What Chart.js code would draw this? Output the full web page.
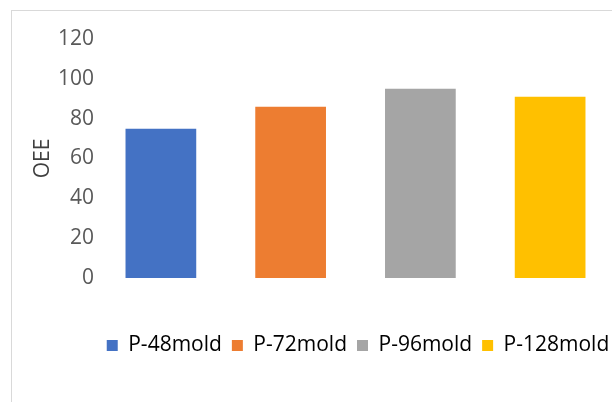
<!DOCTYPE html>
<html>
<head>
<meta charset="utf-8">
<script src="https://cdn.jsdelivr.net/npm/chart.js@4"></script>
<style>
  html, body { margin: 0; padding: 0; background: #fff; }
  body { width: 612px; height: 402px; overflow: hidden; position: relative; }
  #wrap { position: absolute; left: 0; top: 0; width: 716px; height: 402px; }
</style>
</head>
<body>
<div id="wrap"><canvas id="chartOee" width="716" height="402"></canvas></div>
<script>
// datos de la grafica
var categorias = ['P-48mold', 'P-72mold', 'P-96mold', 'P-128mold'];
var valoresOee = [75, 86, 95, 91];
var colores = ['#4472C4', '#ED7D31', '#A5A5A5', '#FFC000'];
var ticksY = [0, 20, 40, 60, 80, 100, 120];

var fuente = "'Open Sans', 'DejaVu Sans', sans-serif";

// marco del area de la grafica (como Excel)
var marco = {
    id: 'marco',
    beforeDraw: function (chart) {
        var ctx = chart.ctx;
        ctx.save();
        ctx.fillStyle = '#ffffff';
        ctx.fillRect(0, 0, chart.width, chart.height);
        ctx.strokeStyle = '#d9d9d9';
        ctx.lineWidth = 1;
        ctx.strokeRect(11.5, 10.5, 900, 600);
        ctx.restore();
    }
};

var chartOee = new Chart(document.getElementById('chartOee'), {
    type: 'bar',
    data: {
        labels: categorias,
        datasets: [{
            label: 'OEE',
            data: valoresOee,
            backgroundColor: colores,
            borderWidth: 0,
            categoryPercentage: 1,
            barPercentage: 0.545
        }]
    },
    plugins: [marco],
    options: {
        responsive: false,
        animation: false,
        layout: { padding: { top: 39, bottom: 36, left: 0, right: 0 } },
        plugins: {
            tooltip: { enabled: false },
            legend: {
                position: 'bottom',
                labels: {
                    boxWidth: 11,
                    boxHeight: 11,
                    padding: 10,
                    color: '#595959',
                    font: { family: fuente, size: 21 },
                    generateLabels: function () {
                        return categorias.map(function (c, i) {
                            return {
                                text: c,
                                fillStyle: colores[i],
                                strokeStyle: colores[i],
                                lineWidth: 0,
                                hidden: false,
                                index: i
                            };
                        });
                    }
                }
            }
        },
        scales: {
            x: {
                grid: { display: false },
                border: { display: false },
                ticks: { display: false },
                afterFit: function (s) { s.height = 47; }
            },
            y: {
                min: 0,
                max: 120,
                afterBuildTicks: function (s) {
                    s.ticks = ticksY.map(function (v) { return { value: v }; });
                },
                grid: { display: false, drawTicks: false },
                border: { display: false },
                ticks: {
                    padding: 2,
                    color: '#595959',
                    font: { family: fuente, size: 21 }
                },
                title: {
                    display: true,
                    text: 'OEE',
                    color: '#404040',
                    padding: { top: 30, bottom: 0 },
                    font: { family: fuente, size: 21 }
                },
                afterFit: function (s) { s.width = 96; }
            },
            yDer: {
                position: 'right',
                grid: { display: false },
                border: { display: false },
                ticks: { display: false },
                afterFit: function (s) { s.width = 101; }
            }
        }
    }
});
</script>
</body>
</html>
